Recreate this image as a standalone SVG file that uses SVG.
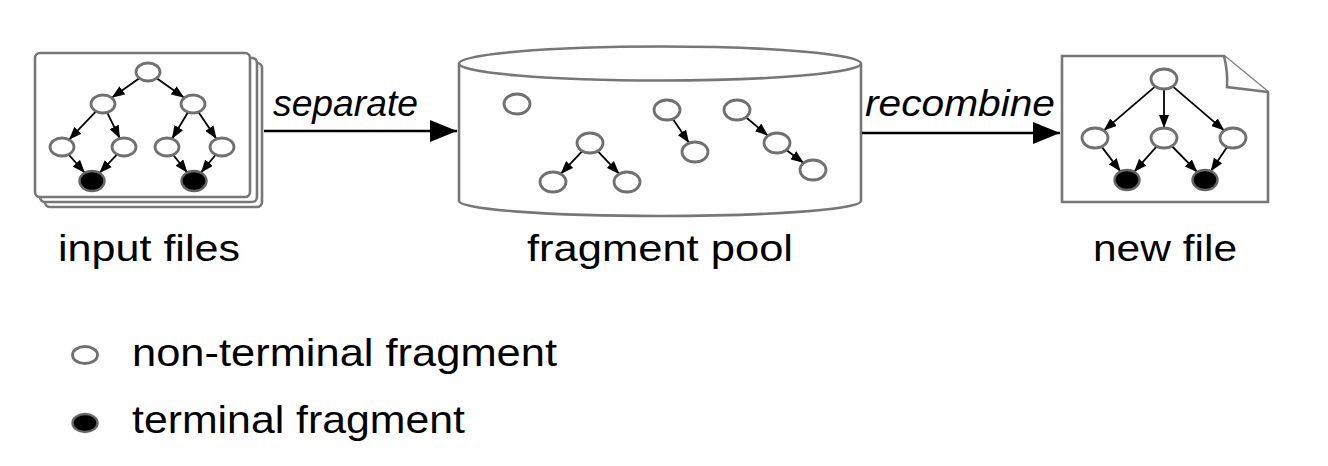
<svg xmlns="http://www.w3.org/2000/svg" width="1328" height="466" viewBox="0 0 1328 466">
<style>
.box{fill:#fff;stroke:#777;stroke-width:2.6}
.nt{fill:#fff;stroke:#707070;stroke-width:2.8}
.t{fill:#000;stroke:#666;stroke-width:2.4}
.e{stroke:#000;stroke-width:1.8;fill:none;marker-end:url(#ah)}
.big{stroke:#000;stroke-width:2.6;fill:none;marker-end:url(#bh)}
.lbl{font-family:"Liberation Sans",Arial,sans-serif;font-size:37px;fill:#000}
.leg{font-family:"Liberation Sans",Arial,sans-serif;font-size:39px;fill:#000}
.it{font-family:"Liberation Sans",Arial,sans-serif;font-size:36px;font-style:italic;fill:#000}
</style>
<defs>
<marker id="ah" markerUnits="userSpaceOnUse" markerWidth="13" markerHeight="10" refX="13" refY="5" orient="auto">
<path d="M0,0 L13,5 L0,10 Z" fill="#000"/>
</marker>
<marker id="bh" markerUnits="userSpaceOnUse" markerWidth="27" markerHeight="22" refX="27" refY="11" orient="auto">
<path d="M0,0 L27,11 L0,22 Z" fill="#000"/>
</marker>
</defs>
<rect width="1328" height="466" fill="#fff"/>

<g id="input-files">
<rect class="box" x="45" y="63" width="217" height="144" rx="5"/>
<rect class="box" x="40" y="58" width="217" height="144" rx="5"/>
<rect class="box" x="35" y="53" width="215" height="144" rx="5"/>
<g class="edges">
<line class="e" x1="139.3" y1="78.2" x2="111.7" y2="97.8"/>
<line class="e" x1="156.7" y1="78.2" x2="184.3" y2="97.8"/>
<line class="e" x1="96" y1="111.3" x2="69" y2="139.7"/>
<line class="e" x1="107.1" y1="112.4" x2="119.9" y2="138.6"/>
<line class="e" x1="188" y1="112.2" x2="172" y2="138.8"/>
<line class="e" x1="198.4" y1="112" x2="216.6" y2="139"/>
<line class="e" x1="68.6" y1="154.5" x2="84.9" y2="172.9"/>
<line class="e" x1="117.1" y1="154.4" x2="99.4" y2="173.1"/>
<line class="e" x1="173.1" y1="154.7" x2="187.4" y2="172.7"/>
<line class="e" x1="215.7" y1="154.7" x2="200.8" y2="172.8"/>
</g>
<ellipse class="nt" cx="148" cy="72" rx="12" ry="9"/>
<ellipse class="nt" cx="103" cy="104" rx="12" ry="9"/>
<ellipse class="nt" cx="193" cy="104" rx="12" ry="9"/>
<ellipse class="nt" cx="62" cy="147" rx="12" ry="9"/>
<ellipse class="nt" cx="124" cy="147" rx="12" ry="9"/>
<ellipse class="nt" cx="167" cy="147" rx="12" ry="9"/>
<ellipse class="nt" cx="222" cy="147" rx="12" ry="9"/>
<ellipse class="t" cx="92" cy="181" rx="12.5" ry="10"/>
<ellipse class="t" cx="194" cy="181" rx="12.5" ry="10"/>
<text class="lbl" x="58" y="261" textLength="182" lengthAdjust="spacingAndGlyphs">input files</text>
</g>

<g id="fragment-pool">
<path class="box" d="M459,63.5 V201 A201,15 0 0 0 861,201 V63.5"/>
<ellipse class="box" cx="660" cy="63.5" rx="201" ry="17"/>
<g class="edges">
<line class="e" x1="582.3" y1="151.1" x2="560.7" y2="173.9"/>
<line class="e" x1="597.7" y1="151.1" x2="619.3" y2="173.9"/>
<line class="e" x1="672.9" y1="118.9" x2="689.1" y2="143.1"/>
<line class="e" x1="745.9" y1="117.3" x2="768.1" y2="135.7"/>
<line class="e" x1="786.3" y1="150" x2="803.7" y2="163"/>
</g>
<ellipse class="nt" cx="517" cy="104" rx="13" ry="10"/>
<ellipse class="nt" cx="590" cy="143" rx="13" ry="10"/>
<ellipse class="nt" cx="553" cy="182" rx="13" ry="10"/>
<ellipse class="nt" cx="627" cy="182" rx="13" ry="10"/>
<ellipse class="nt" cx="667" cy="110" rx="13" ry="10"/>
<ellipse class="nt" cx="695" cy="152" rx="13" ry="10"/>
<ellipse class="nt" cx="737" cy="110" rx="13" ry="10"/>
<ellipse class="nt" cx="777" cy="143" rx="13" ry="10"/>
<ellipse class="nt" cx="813" cy="170" rx="13" ry="10"/>
<text class="lbl" x="527" y="261" textLength="266" lengthAdjust="spacingAndGlyphs">fragment pool</text>
</g>

<g id="new-file">
<path class="box" d="M1062,56 H1224 L1268,92 V202 H1062 Z"/>
<path class="box" d="M1224,56 Q1228,72 1227,87 L1268,92" fill="none"/>
<g class="edges">
<line class="e" x1="1155.3" y1="86.4" x2="1103.7" y2="130.6"/>
<line class="e" x1="1164" y1="89" x2="1164" y2="128"/>
<line class="e" x1="1172.7" y1="86.4" x2="1224.3" y2="130.6"/>
<line class="e" x1="1101.6" y1="146.6" x2="1120.6" y2="171.6"/>
<line class="e" x1="1156.7" y1="146.3" x2="1134.1" y2="171.9"/>
<line class="e" x1="1171.8" y1="146" x2="1197.4" y2="172.2"/>
<line class="e" x1="1227.1" y1="146.9" x2="1210.8" y2="171.3"/>
</g>
<ellipse class="nt" cx="1164" cy="79" rx="13" ry="10"/>
<ellipse class="nt" cx="1095" cy="138" rx="13" ry="10"/>
<ellipse class="nt" cx="1164" cy="138" rx="13" ry="10"/>
<ellipse class="nt" cx="1233" cy="138" rx="13" ry="10"/>
<ellipse class="t" cx="1127" cy="180" rx="12.5" ry="10"/>
<ellipse class="t" cx="1205" cy="180" rx="12.5" ry="10"/>
<text class="lbl" x="1093" y="261" textLength="144" lengthAdjust="spacingAndGlyphs">new file</text>
</g>

<g id="connectors">
<line class="big" x1="264" y1="131" x2="457" y2="131"/>
<text class="it" x="273" y="116" textLength="145" lengthAdjust="spacingAndGlyphs">separate</text>
<line class="big" x1="862" y1="133" x2="1060" y2="133"/>
<text class="it" x="865" y="116" textLength="190" lengthAdjust="spacingAndGlyphs">recombine</text>
</g>

<g id="legend">
<ellipse class="nt" cx="85" cy="355" rx="12.5" ry="8.5"/>
<text class="leg" x="132" y="366" textLength="425" lengthAdjust="spacingAndGlyphs">non-terminal fragment</text>
<ellipse class="t" cx="85" cy="423" rx="12.5" ry="9"/>
<text class="leg" x="132" y="433" textLength="333" lengthAdjust="spacingAndGlyphs">terminal fragment</text>
</g>
</svg>
